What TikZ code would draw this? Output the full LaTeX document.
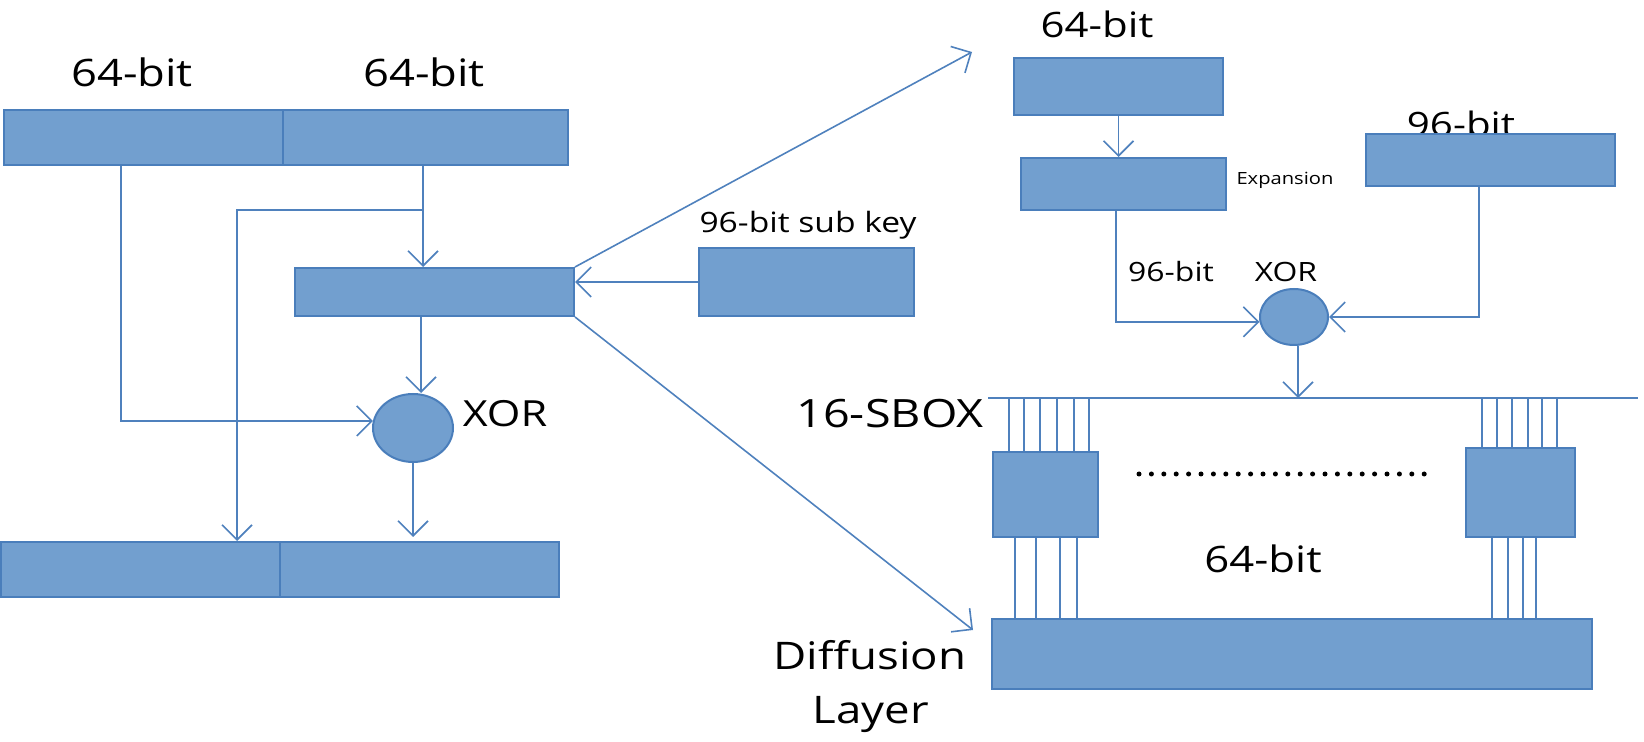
\documentclass[tikz,border=0pt]{standalone}
\usepackage{fontspec}
\setmainfont{Open Sans}[FakeStretch=1.2]
\usetikzlibrary{arrows.meta,shapes.geometric}
\definecolor{boxfill}{RGB}{114,159,207}
\definecolor{boxline}{RGB}{74,126,187}
\definecolor{wire}{RGB}{79,129,189}
\newcommand\setfs[1]{\fontsize{#1}{#1}\selectfont}
\begin{document}
\begin{tikzpicture}[x=0.5pt,y=-0.5pt,
 blk/.style={draw=boxline, fill=boxfill, line width=1pt, inner sep=0pt, rectangle},
 xo/.style={draw=boxline, fill=boxfill, line width=1pt, inner sep=0pt, ellipse},
 conn/.style={draw=wire, line width=0.8pt},
 arr/.style={conn, -{Straight Barb[length=7.5pt,width=15pt,line width=0.8pt]}},
 lbl/.style={anchor=base, inner sep=0pt, text=black},
]
\useasboundingbox (0,0) rectangle (1644,742);

% ---------- left part ----------
\node[lbl, font=\setfs{18.9}] (t64a) at (132,87) {64-bit};
\node[lbl, font=\setfs{18.9}] (t64b) at (424,87) {64-bit};
\node[blk, minimum width=139.5pt, minimum height=27.5pt] (L1) at (143.5,137.5) {};
\node[blk, minimum width=142.5pt, minimum height=27.5pt] (R1) at (425.5,137.5) {};
\node[blk, minimum width=139.5pt, minimum height=24pt] (F) at (434.5,292) {};
\node[lbl, font=\setfs{14}] (tsub) at (808,233) {96-bit sub key};
\node[blk, minimum width=107.5pt, minimum height=34pt] (K) at (806.5,282) {};
\node[xo, minimum width=40pt, minimum height=34pt] (X1) at (413,428) {};
\node[lbl, font=\setfs{18}] (txor1) at (505,427) {XOR};
\node[blk, minimum width=139.5pt, minimum height=27.5pt] (L2) at (140.5,569.5) {};
\node[blk, minimum width=139.5pt, minimum height=27.5pt] (R2) at (419.5,569.5) {};

\coordinate (j) at (423,210);
\coordinate (jb) at (237,210);
\coordinate (fo) at (421,316);
\coordinate (t1) at (972,52);
\coordinate (t2) at (973,630);

\draw[arr] ([xshift=-11.25pt]L1.south) |- (X1.170);
\draw[conn] (R1.south -| j) -- (j);
\draw[arr] (j) -- (F.north -| j);
\draw[arr] (j) -- (jb) -- (jb |- L2.north);
\draw[arr] (F.south -| fo) -- ([xshift=4pt]X1.north);
\draw[arr, shorten >=2pt] (X1.south) -- (X1.south |- R2.north);
\draw[arr] (K.west) -- (K.west -| F.east);
\draw[arr] (F.north east) -- (t1);
\draw[arr] (F.south east) -- (t2);

% ---------- right part ----------
\node[lbl, font=\setfs{17.5}] (t64c) at (1097,38) {64-bit};
\node[blk, minimum width=104.5pt, minimum height=28.5pt] (A) at (1118.5,86.5) {};
\node[blk, minimum width=102.5pt, minimum height=26pt] (B) at (1123.5,184) {};
\node[lbl, font=\setfs{8.4}] (texp) at (1285,185) {Expansion};
\node[lbl, font=\setfs{16.8}] (t96c) at (1461,137) {96-bit};
\node[blk, minimum width=124.5pt, minimum height=26pt] (C) at (1490.5,160) {};
\node[xo, minimum width=34pt, minimum height=28pt] (X2) at (1294,317) {};
\node[lbl, font=\setfs{13.3}] (t96b) at (1171,282) {96-bit};
\node[lbl, font=\setfs{13.3}] (txor2) at (1286,282) {XOR};
\node[lbl, font=\setfs{19.5}] (tsbox) at (890,428) {16-SBOX};
\node[blk, minimum width=52.5pt, minimum height=42.5pt] (S1) at (1045.5,494.5) {};
\node[blk, minimum width=54.5pt, minimum height=44.5pt] (S2) at (1520.5,492.5) {};
\node[blk, minimum width=300pt, minimum height=35pt] (D) at (1292,654) {};
\node[lbl, font=\setfs{18.2}] (t64d) at (1263,573) {64-bit};
\node[lbl, font=\setfs{19}] (tdif) at (870,669) {Diffusion};
\node[lbl, font=\setfs{19}] (tlay) at (871,723) {Layer};

\coordinate (busL) at (988,398);
\coordinate (busR) at (1638,398);

\draw[arr] (A.south) -- (A.south |- B.north);
\draw[arr] ([xshift=-3.75pt]B.south) |- (X2.188);
\draw[arr] ([xshift=-5.75pt]C.south) |- (X2.east);
\draw[conn] (busL) -- (busR);
\draw[arr] ([xshift=2pt]X2.south) -- ([xshift=2pt]X2.south |- busL);

\foreach \x in {1009,1024,1040,1057,1074,1089}
  \draw[conn] (busL -| \x,0) -- (S1.north -| \x,0);
\foreach \x in {1482,1497,1512,1528,1542,1557}
  \draw[conn] (busL -| \x,0) -- (S2.north -| \x,0);
\foreach \x in {1015,1036,1060,1077}
  \draw[conn] (S1.south -| \x,0) -- (D.north -| \x,0);
\foreach \x in {1492,1508,1523,1536}
  \draw[conn] (S2.south -| \x,0) -- (D.north -| \x,0);

\draw[line width=2.5pt, line cap=round, dash pattern=on 0pt off 6.2pt] (1139,474) -- (1436,474);
\end{tikzpicture}
\end{document}
